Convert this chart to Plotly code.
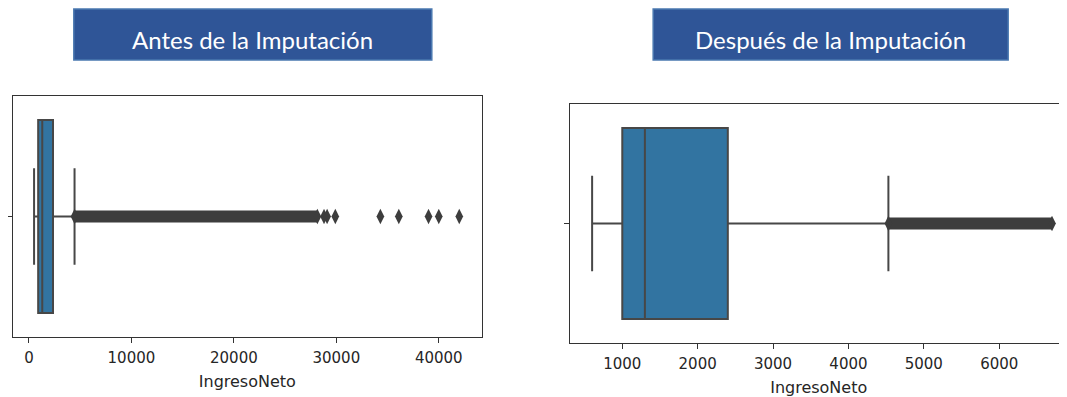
import plotly.graph_objects as go

# ---------------- data ----------------
titles = ["Antes de la Imputación", "Después de la Imputación"]
axis_label = "IngresoNeto"

# box statistics
antes_stats = dict(lowerfence=500, q1=900, median=1300, q3=2350, upperfence=4450)
despues_stats = dict(lowerfence=600, q1=1000, median=1300, q3=2400, upperfence=4530)

# dense outlier runs (start, end) and isolated outliers
antes_band = [4450, 28150]
antes_outliers = [28800, 29100, 29900, 34300, 36100, 39000, 40000, 42000]
despues_band = [4530, 6700]

antes_ticks = [0, 10000, 20000, 30000, 40000]
despues_ticks = [1000, 2000, 3000, 4000, 5000, 6000]

# ---------------- style ----------------
OFF = 8                      # page body margin
W, H = 1067 - OFF, 397 - OFF
BOX_FILL = "#3274a1"
EDGE = "#474747"
PT = "#3d3d3d"
TITLE_FILL = "#2f5597"
TITLE_EDGE = "#4a78b0"
FONT = "DejaVu Sans"

def px(x):
    return (x - OFF) / W

def py(y):
    return 1 - (y - OFF) / H

fig = go.Figure()

def add_panel(stats, band, outliers, xa, ya):
    fig.add_trace(go.Box(
        orientation="h", y=[0], q1=[stats["q1"]], median=[stats["median"]],
        q3=[stats["q3"]], lowerfence=[stats["lowerfence"]],
        upperfence=[stats["upperfence"]], width=0.8, whiskerwidth=0.5,
        fillcolor=BOX_FILL, line=dict(color=EDGE, width=2),
        boxpoints=False, hoverinfo="skip", showlegend=False,
        xaxis=xa, yaxis=ya))
    fig.add_trace(go.Scatter(
        x=band, y=[0] * len(band), mode="lines+markers",
        line=dict(color=PT, width=12),
        marker=dict(symbol="diamond-tall", size=11, color=PT),
        showlegend=False, hoverinfo="skip", xaxis=xa, yaxis=ya))
    if outliers:
        fig.add_trace(go.Scatter(
            x=outliers, y=[0] * len(outliers), mode="markers",
            marker=dict(symbol="diamond-tall", size=11, color=PT),
            showlegend=False, hoverinfo="skip", xaxis=xa, yaxis=ya))

add_panel(antes_stats, antes_band, antes_outliers, "x", "y")
add_panel(despues_stats, despues_band, [], "x2", "y2")

tickfont = dict(family=FONT, size=15, color="#262626")
common_x = dict(showgrid=False, zeroline=False, showline=True, linecolor="#333333",
                linewidth=1.3, ticks="outside", ticklen=5, tickcolor="#333333",
                tickfont=tickfont, ticklabelstandoff=2)
common_y = dict(showgrid=False, zeroline=False, showline=True, linecolor="#333333",
                linewidth=1.3, ticks="outside", ticklen=5, tickcolor="#333333",
                tickvals=[0], ticktext=[""], range=[0.5, -0.5], fixedrange=True)
title_font = dict(family=FONT, size=16, color="#262626")

fig.update_layout(
    width=W, height=H,
    margin=dict(l=0, r=0, t=0, b=0),
    paper_bgcolor="white", plot_bgcolor="white",
    xaxis=dict(common_x, domain=[px(10), px(480)], range=[-1557, 44185],
               tickvals=antes_ticks, ticktext=[str(t) for t in antes_ticks],
               title=dict(text=axis_label, font=title_font, standoff=9),
               mirror=True, anchor="y"),
    yaxis=dict(common_y, domain=[py(337), py(96)], mirror=True, anchor="x"),
    xaxis2=dict(common_x, domain=[px(569), 1.0], range=[312, 6899],
                tickvals=despues_ticks, ticktext=[str(t) for t in despues_ticks],
                title=dict(text=axis_label, font=title_font, standoff=10),
                mirror=True, anchor="y2"),
    yaxis2=dict(common_y, domain=[py(343), py(104)], mirror=False, anchor="x2"),
)

# title boxes
boxes = [(71, 430), (652, 1008)]
for (x0, x1), t in zip(boxes, titles):
    fig.add_shape(type="rect", xref="paper", yref="paper",
                  x0=px(x0), x1=px(x1), y0=py(60), y1=py(9),
                  fillcolor=TITLE_FILL, line=dict(color=TITLE_EDGE, width=1.5))
    fig.add_annotation(text=t, xref="paper", yref="paper",
                       x=px((x0 + x1) / 2), y=py(39), xanchor="center", yanchor="middle",
                       showarrow=False, font=dict(family="Lato", size=24, color="white"))

fig.write_html("out.html")
